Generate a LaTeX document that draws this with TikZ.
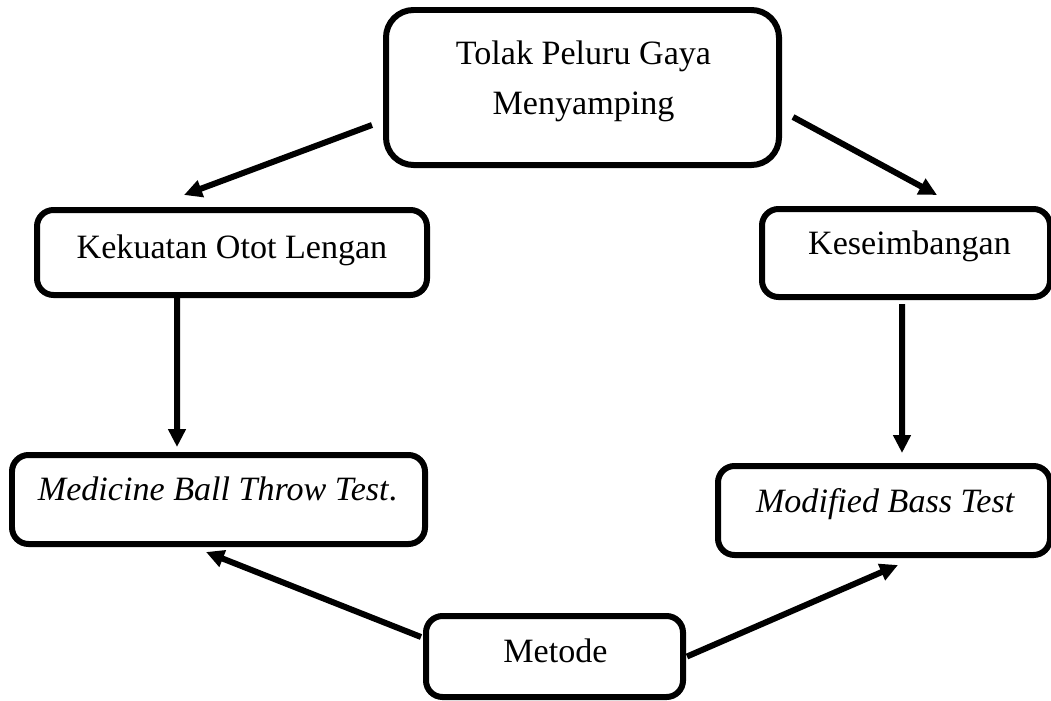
\documentclass[tikz,border=0pt]{standalone}
\usepackage{fontspec}
\setmainfont{Liberation Serif}
\usetikzlibrary{positioning, arrows.meta}

\begin{document}
\begin{tikzpicture}[font=\fontsize{19.4}{26.2}\selectfont,
    box/.style={draw, line width=0.12cm, rounded corners=0.33cm},
    lbl/.style={anchor=base, inner sep=0pt},
    arr/.style={line width=0.12cm, -{Triangle[length=0.36cm, width=0.34cm]}}]
    \useasboundingbox (0,0) rectangle (21.02,-14);

    \node[box, rounded corners=0.55cm, minimum width=7.86cm, minimum height=3.1cm] (tolak) at (11.65,-1.75) {};
    \node[align=center, inner sep=0pt] at ([xshift=0.02cm,yshift=0.12cm]tolak.center)
      {Tolak Peluru Gaya\\[2.5pt]Menyamping};

    \node[box, minimum width=7.8cm, minimum height=1.7cm] (kekuatan) at (4.64,-5.05) {};
    \node[lbl] at ([yshift=-0.11cm]kekuatan.center) {Kekuatan Otot Lengan};

    \node[box, minimum width=5.76cm, minimum height=1.76cm] (keseimbangan) at (18.12,-5.06) {};
    \node[lbl] at ([xshift=0.07cm,yshift=-0.02cm]keseimbangan.center) {Keseimbangan};

    \node[box, minimum width=8.26cm, minimum height=1.78cm] (medicine) at (4.37,-9.99) {};
    \node[lbl] at ([xshift=-0.02cm,yshift=-0.01cm]medicine.center) {\textit{Medicine Ball Throw Test}.};

    \node[box, minimum width=6.64cm, minimum height=1.78cm] (modified) at (17.68,-10.21) {};
    \node[lbl] at ([xshift=0.03cm,yshift=-0.03cm]modified.center) {\textit{Modified Bass Test}};

    \node[box, minimum width=5.14cm, minimum height=1.62cm] (metode) at (11.09,-13.13) {};
    \node[lbl] at ([xshift=0.02cm,yshift=-0.11cm]metode.center) {Metode};

    % panah
    \draw[arr] ([xshift=-0.22cm,yshift=-0.75cm]tolak.west) -- ([xshift=-0.96cm,yshift=0.24cm]kekuatan.north);
    \draw[arr] ([xshift=0.22cm,yshift=-0.59cm]tolak.east) -- ([xshift=0.62cm,yshift=0.22cm]keseimbangan.north);
    \draw[arr] ([xshift=-1.1cm]kekuatan.south) -- ([xshift=-0.83cm,yshift=0.1cm]medicine.north);
    \draw[arr] ([xshift=-0.08cm,yshift=-0.08cm]keseimbangan.south) -- ([xshift=0.36cm,yshift=0.2cm]modified.north);
    \draw[arr] ([xshift=-0.04cm,yshift=0.39cm]metode.west) -- ([xshift=-0.25cm,yshift=-0.1cm]medicine.south);
    \draw[arr] ([xshift=0.02cm]metode.east) -- ([xshift=0.28cm,yshift=-0.14cm]modified.south);
\end{tikzpicture}
\end{document}
